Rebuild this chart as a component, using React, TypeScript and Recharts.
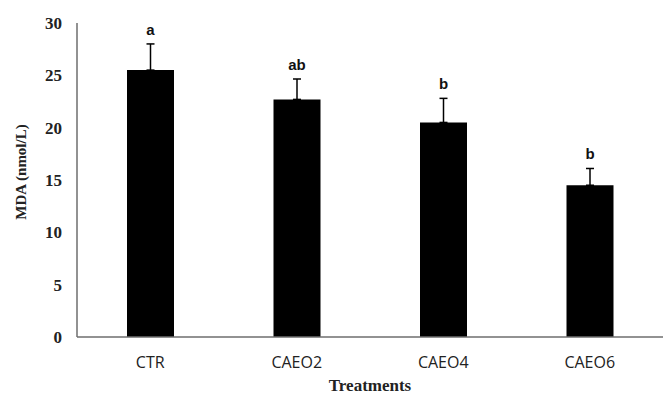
import { Bar, BarChart, ErrorBar, LabelList, XAxis, YAxis } from 'recharts'

const treatments = ['CTR', 'CAEO2', 'CAEO4', 'CAEO6']
const mda = [25.5, 22.7, 20.5, 14.5]
const sd = [2.5, 1.95, 2.3, 1.6]
const letters = ['a', 'ab', 'b', 'b']
const yTicks = [0, 5, 10, 15, 20, 25, 30]

const rows = treatments.map((t, i) => ({ name: t, value: mda[i], err: [0, sd[i]], sd: sd[i], letter: letters[i] }))

const serif = '"Liberation Serif", "Times New Roman", serif'
const axisGrey = '#6e6e6e'

// letter sits a few px above the top of the error bar
const LetterLabel = (props: any) => {
  const { x, y, width, height, index } = props
  const row = rows[index]
  const pxPerUnit = height / row.value
  const top = y - row.sd * pxPerUnit
  return (
    <text
      x={x + width / 2}
      y={top - 9}
      textAnchor="middle"
      fontFamily='"Liberation Sans", Arial, sans-serif'
      fontWeight="bold"
      fontSize={15}
      fill="#111"
    >
      {row.letter}
    </text>
  )
}

export default function App() {
  return (
    <div style={{ position: 'absolute', left: 0, top: 0, width: 663, height: 399, background: '#fff' }}>
      <BarChart width={663} height={399} data={rows} margin={{ top: 23, right: 0, bottom: 0, left: 0 }}>
        <XAxis
          dataKey="name"
          height={62}
          tickLine={false}
          tickSize={0}
          tickMargin={20}
          axisLine={{ stroke: axisGrey, strokeWidth: 1.5 }}
          tick={{ fill: '#222', fontSize: 16, fontFamily: '"Open Sans", sans-serif' }}
          label={{
            value: 'Treatments',
            position: 'insideBottom',
            offset: 8,
            fill: '#222',
            fontSize: 17,
            fontWeight: 'bold',
            fontFamily: serif,
          }}
        />
        <YAxis
          width={77}
          domain={[0, 30]}
          ticks={yTicks}
          interval={0}
          tickLine={false}
          tickSize={0}
          tickMargin={15}
          axisLine={{ stroke: axisGrey, strokeWidth: 1.5 }}
          tick={{ fill: '#222', fontSize: 17, fontWeight: 'bold', fontFamily: serif }}
          label={{
            value: 'MDA (nmol/L)',
            content: () => (
              <text
                x={21}
                y={172}
                transform="rotate(-90 21 172)"
                textAnchor="middle"
                dominantBaseline="central"
                fontFamily={serif}
                fontWeight="bold"
                fontSize={15}
                fill="#222"
              >
                MDA (nmol/L)
              </text>
            ),
          }}
        />
        <Bar dataKey="value" fill="#000" barSize={47} isAnimationActive={false}>
          <ErrorBar dataKey="err" width={4} stroke="#000" strokeWidth={1.5} direction="y" />
          <LabelList dataKey="letter" content={LetterLabel} />
        </Bar>
      </BarChart>
    </div>
  )
}
